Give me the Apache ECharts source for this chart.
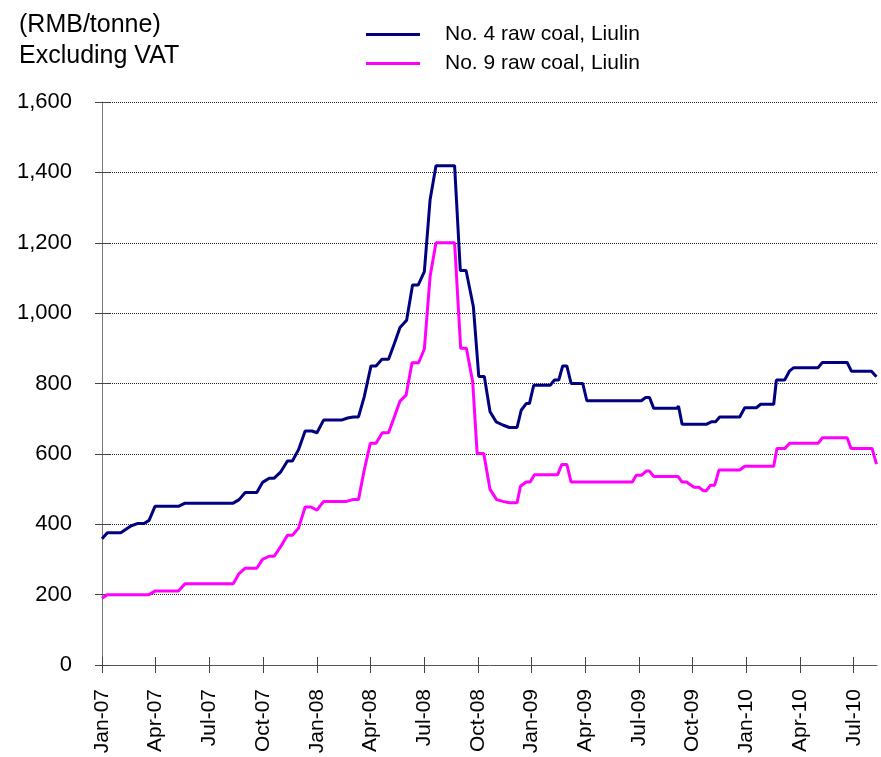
<!DOCTYPE html>
<html>
<head>
<meta charset="utf-8">
<script src="https://cdn.jsdelivr.net/npm/echarts@6.0.0/dist/echarts.min.js"></script>
<style>
  html, body { margin: 0; padding: 0; background: #fff; }
  #coalChart { width: 881px; height: 757px; }
</style>
</head>
<body>
<div id="coalChart"></div>
<script>
// quarter labels, one every 3 months starting Jan-07
var tickLabels = ["Jan-07", "Apr-07", "Jul-07", "Oct-07", "Jan-08", "Apr-08", "Jul-08", "Oct-08",
  "Jan-09", "Apr-09", "Jul-09", "Oct-09", "Jan-10", "Apr-10", "Jul-10"];

// No. 4 raw coal, Liulin  (months since Jan-07, RMB/tonne)
var no4Months = [0, 0.30, 1.05, 1.61, 1.97, 2.35, 2.63, 2.96, 4.27, 4.64, 7.33, 7.66, 8.00, 8.65, 8.97,
  9.34, 9.62, 9.99, 10.36, 10.64, 10.98, 11.35, 11.73, 12.01, 12.38, 13.38, 13.72, 14.04, 14.33, 14.65,
  15.03, 15.31, 15.64, 16.01, 16.33, 16.65, 17.02, 17.35, 17.67, 18.01, 18.33, 18.66, 19.70, 20.02, 20.34,
  20.75, 21.05, 21.36, 21.68, 22.02, 22.39, 22.76, 23.19, 23.42, 23.70, 23.88, 24.12, 25.04, 25.28, 25.52,
  25.74, 25.97, 26.21, 26.86, 27.09, 30.13, 30.37, 30.59, 30.82, 32.14, 32.21, 32.41, 33.76, 34.04, 34.28,
  34.51, 35.63, 35.91, 36.56, 36.80, 37.53, 37.68, 38.14, 38.42, 38.65, 40.01, 40.25, 41.63, 41.87, 42.99,
  43.27];
var no4Prices = [359, 376, 376, 395, 402, 402, 411, 451, 451, 460, 460, 470, 490, 490, 519,
  531, 531, 549, 580, 580, 612, 665, 665, 660, 696, 696, 702, 705, 705, 762,
  850, 850, 869, 869, 913, 959, 980, 1080, 1080, 1118, 1322, 1419, 1419, 1121, 1121,
  1018, 820, 820, 720, 691, 682, 675, 675, 724, 743, 743, 795, 795, 810, 810,
  850, 850, 800, 800, 751, 751, 760, 760, 730, 730, 736, 684, 684, 691, 691,
  705, 705, 731, 731, 741, 741, 810, 810, 836, 845, 845, 860, 860, 835, 835,
  819];

// No. 9 raw coal, Liulin
var no9Months = [0, 0.30, 2.63, 2.96, 4.27, 4.64, 7.33, 7.66, 8.00, 8.65, 8.97, 9.34, 9.62, 9.99, 10.36,
  10.64, 10.98, 11.35, 11.67, 12.01, 12.38, 13.66, 14.00, 14.33, 14.65, 14.99, 15.31, 15.66, 16.01, 16.33,
  16.65, 16.99, 17.32, 17.69, 18.01, 18.33, 18.66, 19.70, 20.04, 20.36, 20.71, 20.96, 21.33, 21.68, 22.05,
  22.39, 22.76, 23.19, 23.38, 23.70, 23.92, 24.16, 25.46, 25.69, 25.97, 26.21, 29.63, 29.85, 30.13, 30.41,
  30.59, 30.82, 32.18, 32.41, 32.65, 33.08, 33.35, 33.61, 33.76, 34.00, 34.23, 34.47, 35.63, 35.91, 37.53,
  37.71, 38.14, 38.42, 40.01, 40.25, 41.63, 41.85, 43.03, 43.27];
var no9Prices = [190, 200, 200, 210, 210, 231, 231, 260, 275, 275, 300, 309, 309, 337, 369,
  369, 389, 449, 449, 440, 465, 465, 470, 470, 554, 630, 630, 660, 660, 705,
  750, 767, 859, 859, 898, 1104, 1200, 1200, 900, 900, 805, 601, 601, 499, 470,
  465, 461, 461, 508, 520, 520, 541, 541, 570, 570, 520, 520, 539, 539, 551,
  551, 536, 536, 520, 520, 505, 505, 495, 495, 511, 511, 554, 554, 565, 565,
  615, 615, 630, 630, 646, 646, 615, 615, 571];

var font = "Liberation Sans, Arial, sans-serif";
var tickValues = tickLabels.map(function (l, i) { return i * 3; });

function pairs(xs, ys) {
  return xs.map(function (x, i) { return [x, ys[i]]; });
}

var chart = echarts.init(document.getElementById("coalChart"));

var option = {
  backgroundColor: "#fff",
  animation: false,
  title: {
    text: "(RMB/tonne)\nExcluding VAT",
    left: 14,
    top: 5,
    textStyle: { fontFamily: font, fontSize: 25, fontWeight: "normal", color: "#000", lineHeight: 31 }
  },
  legend: {
    orient: "vertical",
    left: 366,
    top: 24,
    padding: 0,
    icon: "rect",
    itemWidth: 54,
    itemHeight: 3,
    itemGap: 8,
    textStyle: { fontFamily: font, fontSize: 21, color: "#000", padding: [0, 0, 0, 20] },
    data: ["No. 4 raw coal, Liulin", "No. 9 raw coal, Liulin"]
  },
  grid: { left: 102, right: 4, top: 102, bottom: 92, containLabel: false },
  xAxis: [
    {
      type: "value",
      min: 0,
      max: 43.3,
      axisLine: { show: true, onZero: false, lineStyle: { color: "#555", width: 1 } },
      axisTick: { show: true, inside: false, length: 8, customValues: tickValues, lineStyle: { color: "#444" } },
      axisLabel: {
        customValues: tickValues,
        rotate: 90,
        margin: 24,
        fontFamily: font,
        fontSize: 21,
        color: "#000",
        formatter: function (v) { return tickLabels[Math.round(v / 3)] || ""; }
      },
      splitLine: { show: false }
    },
    {
      type: "value",
      min: 0,
      max: 43.3,
      position: "bottom",
      axisLine: { show: false },
      axisTick: { show: true, inside: true, length: 8, customValues: tickValues, lineStyle: { color: "#444" } },
      axisLabel: { show: false },
      splitLine: { show: false }
    }
  ],
  yAxis: [
    {
      type: "value",
      min: 0,
      max: 1600,
      interval: 200,
      axisLine: { show: true, lineStyle: { color: "#777", width: 1 } },
      axisTick: { show: true, inside: false, length: 7, lineStyle: { color: "#444" } },
      axisLabel: {
        margin: 30,
        fontFamily: font,
        fontSize: 22,
        color: "#000",
        formatter: function (v) { return v.toLocaleString("en-US"); }
      },
      splitLine: { show: true, lineStyle: { type: "dotted", color: "#222", width: 1 } }
    },
    {
      type: "value",
      min: 0,
      max: 1600,
      interval: 200,
      position: "left",
      axisLine: { show: false },
      axisTick: { show: true, inside: true, length: 8, lineStyle: { color: "#444" } },
      axisLabel: { show: false },
      splitLine: { show: false }
    }
  ],
  series: [
    {
      name: "No. 4 raw coal, Liulin",
      type: "line",
      xAxisIndex: 0,
      yAxisIndex: 0,
      showSymbol: false,
      color: "#000080",
      lineStyle: { color: "#000080", width: 3 },
      data: pairs(no4Months, no4Prices)
    },
    {
      name: "No. 9 raw coal, Liulin",
      type: "line",
      xAxisIndex: 0,
      yAxisIndex: 0,
      showSymbol: false,
      color: "#FF00FF",
      lineStyle: { color: "#FF00FF", width: 3 },
      data: pairs(no9Months, no9Prices)
    }
  ]
};

chart.setOption(option);
</script>
</body>
</html>
